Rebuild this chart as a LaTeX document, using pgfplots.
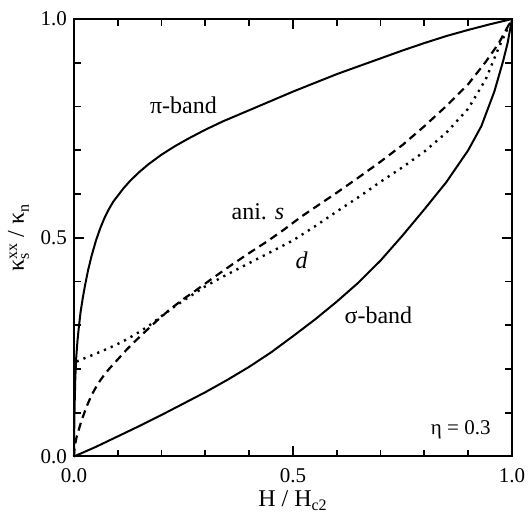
\documentclass[border=0pt]{standalone}
\usepackage{pgfplots}
\pgfplotsset{compat=1.18}
\usepackage{fontspec}
\setmainfont{Liberation Serif}
\begin{document}
\begin{tikzpicture}
\begin{axis}[
  name=ax,
  scale only axis,
  width=219pt, height=218.75pt,
  xmin=0, xmax=1, ymin=0, ymax=1,
  xtick={0,0.5,1}, ytick={0,0.5,1},
  minor tick num=4,
  tick pos=both, tick align=inside,
  major tick length=5pt, minor tick length=3.3pt,
  axis line style={line width=1pt},
  every tick/.style={line width=0.9pt, black},
  /pgf/number format/assume math mode=true,
  /pgf/number format/.cd, fixed, fixed zerofill, precision=1, /pgfplots/.cd,
  tick label style={font=\fontsize{10.5}{12}\selectfont},
  xticklabel style={yshift=-2.5pt},
  xlabel={H / H\textsubscript{c2}},
  ylabel={κ\rlap{\raisebox{-0.45ex}{\fontsize{8}{9}\selectfont s}}\raisebox{0.6ex}{\fontsize{8}{9}\selectfont xx} / κ\raisebox{-0.45ex}{\fontsize{8}{9}\selectfont n}},
  label style={font=\fontsize{12}{14}\selectfont},
  xlabel style={yshift=2.8pt},
  ylabel style={yshift=-1pt},
  clip=false,
]
\addplot[black, line width=1pt] coordinates {
(0,0) (0.0005,0.06) (0.0015,0.12) (0.003,0.18) (0.005,0.225) (0.008,0.265)
(0.011,0.295) (0.015,0.33) (0.02,0.362) (0.025,0.39) (0.032,0.425) (0.04,0.458)
(0.05,0.493) (0.06,0.522) (0.07,0.546) (0.08,0.566) (0.09,0.583) (0.1,0.596)
(0.113,0.613) (0.13,0.632) (0.15,0.651) (0.17,0.668) (0.2,0.69) (0.23,0.709)
(0.26,0.726) (0.3,0.747) (0.34,0.766) (0.38,0.783) (0.42,0.8) (0.46,0.817)
(0.5,0.834) (0.55,0.854) (0.6,0.874) (0.65,0.892) (0.7,0.91) (0.75,0.928)
(0.8,0.945) (0.85,0.961) (0.9,0.975) (0.95,0.988) (1,1)
};
\addplot[black, line width=1pt] coordinates {
(0,0) (0.05,0.022) (0.1,0.046) (0.15,0.07) (0.2,0.095) (0.25,0.121) (0.3,0.147)
(0.35,0.175) (0.4,0.205) (0.45,0.238) (0.5,0.275) (0.55,0.313) (0.6,0.354)
(0.65,0.398) (0.7,0.448) (0.75,0.505) (0.8,0.565) (0.85,0.627) (0.9,0.7)
(0.93,0.755) (0.96,0.835) (0.98,0.905) (0.99,0.945) (1,1)
};
\addplot[black, line width=1.1pt, dash pattern=on 4pt off 2.6pt] coordinates {
(0,0) (0.001,0.015) (0.003,0.03) (0.006,0.045) (0.01,0.058) (0.015,0.075)
(0.02,0.09) (0.03,0.117) (0.04,0.14) (0.05,0.158) (0.06,0.174) (0.07,0.188)
(0.08,0.2) (0.1,0.222) (0.12,0.244) (0.14,0.264) (0.16,0.283) (0.19,0.311)
(0.22,0.337) (0.25,0.36) (0.28,0.381) (0.32,0.41) (0.36,0.438) (0.4,0.465)
(0.44,0.491) (0.48,0.519) (0.52,0.549) (0.56,0.576) (0.6,0.603) (0.65,0.638)
(0.7,0.674) (0.75,0.712) (0.8,0.755) (0.85,0.801) (0.9,0.851) (0.94,0.902)
(0.97,0.945) (1,1)
};
\addplot[black, line width=1.2pt, dash pattern=on 1.1pt off 2.6pt] coordinates {
(0.006,0.217) (0.025,0.225) (0.05,0.235) (0.08,0.248) (0.11,0.262) (0.14,0.279)
(0.17,0.298) (0.2,0.321) (0.23,0.343) (0.26,0.363) (0.3,0.389) (0.34,0.411)
(0.4,0.442) (0.46,0.473) (0.5,0.494) (0.55,0.526) (0.6,0.56) (0.65,0.593)
(0.7,0.628) (0.75,0.661) (0.8,0.697) (0.85,0.74) (0.9,0.795) (0.94,0.862)
(0.97,0.935) (1,1)
};
\node[font=\fontsize{12}{14}\selectfont] at (axis cs:0.25,0.803) {π-band};
\node[font=\fontsize{12}{14}\selectfont] at (axis cs:0.42,0.56) {ani. \textit{s}};
\node[font=\fontsize{12}{14}\selectfont] at (axis cs:0.52,0.449) {\textit{d}};
\node[font=\fontsize{12}{14}\selectfont] at (axis cs:0.695,0.323) {σ-band};
\node[font=\fontsize{10.5}{12}\selectfont] at (axis cs:0.883,0.061) {η = 0.3};
\coordinate (ll) at (rel axis cs:0,0);
\coordinate (ur) at (rel axis cs:1,1);
\end{axis}
\pgfresetboundingbox
\path[use as bounding box] ([shift={(-37pt,-27.75pt)}]ll) rectangle ([shift={(9.5pt,9.5pt)}]ur);
\end{tikzpicture}
\end{document}
